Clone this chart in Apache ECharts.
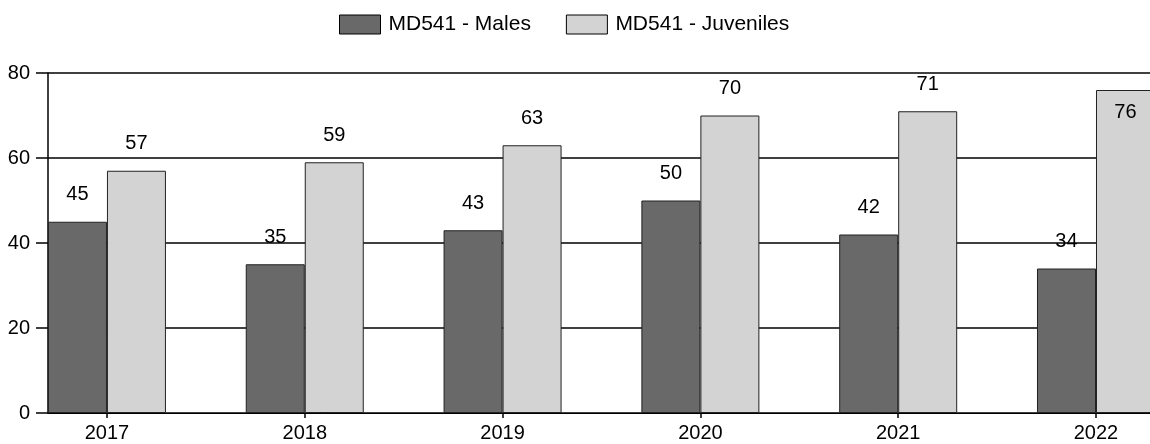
<!DOCTYPE html>
<html>
<head>
<meta charset="utf-8">
<script src="https://cdn.jsdelivr.net/npm/echarts@6/dist/echarts.min.js"></script>
<style>
html,body{margin:0;padding:0;background:#fff;}
#chart{width:1150px;height:444px;}
</style>
</head>
<body>
<div id="chart"></div>
<script>
const years = [2017, 2018, 2019, 2020, 2021, 2022];
const males = [45, 35, 43, 50, 42, 34];
const juveniles = [57, 59, 63, 70, 71, 76];
const yTicks = [0, 20, 40, 60, 80];
const seriesNames = ['MD541 - Males', 'MD541 - Juveniles'];

const FONT = '"Liberation Sans", Arial, sans-serif';
const chart = echarts.init(document.getElementById('chart'), null, {renderer: 'canvas'});

function pairs(vals, insideIdx) {
  return vals.map((v, i) => {
    const d = {value: [years[i], v]};
    if (insideIdx && insideIdx.includes(i)) {
      d.label = {position: 'insideTop', distance: 12};
    }
    return d;
  });
}

const labelCommon = {
  show: true,
  position: 'top',
  distance: 17,
  color: '#000',
  fontFamily: FONT,
  fontSize: 20,
  formatter: p => p.value[1]
};

chart.setOption({
  animation: false,
  backgroundColor: '#fff',
  textStyle: {fontFamily: FONT},
  legend: {
    left: 334,
    top: 9,
    icon: 'rect',
    itemWidth: 41,
    itemHeight: 19,
    itemGap: 35,
    textStyle: {color: '#000', fontSize: 21, fontFamily: FONT, padding: [0, 0, 0, 3]},
    data: seriesNames,
    itemStyle: {borderColor: '#000', borderWidth: 1}
  },
  grid: {left: 48, right: 0, top: 73, bottom: 31, containLabel: false},
  xAxis: {
    type: 'value',
    min: 2016.702,
    max: 2022.273,
    splitLine: {show: false},
    axisLine: {show: true, onZero: false, lineStyle: {color: '#000', width: 1}},
    axisTick: {show: true, length: 5, customValues: years, lineStyle: {color: '#000', width: 1.5}},
    axisLabel: {
      customValues: years,
      formatter: v => String(v),
      color: '#000',
      fontSize: 20,
      fontFamily: FONT,
      margin: 10
    }
  },
  yAxis: {
    type: 'value',
    min: 0,
    max: 80,
    interval: 20,
    axisLine: {show: true, lineStyle: {color: '#000', width: 1.5}},
    axisTick: {show: true, length: 12, lineStyle: {color: '#000', width: 1.5}},
    axisLabel: {
      customValues: yTicks,
      color: '#000', fontSize: 20, fontFamily: FONT, margin: 18
    },
    splitLine: {show: true, lineStyle: {color: '#000', width: 1.5}}
  },
  series: [
    {
      name: seriesNames[0],
      type: 'bar',
      barWidth: 59,
      barGap: '0%',
      data: pairs(males),
      itemStyle: {color: '#696969', borderColor: '#222', borderWidth: 1},
      label: labelCommon
    },
    {
      name: seriesNames[1],
      type: 'bar',
      barWidth: 59,
      barGap: '0%',
      data: pairs(juveniles, [5]),
      itemStyle: {color: '#d3d3d3', borderColor: '#222', borderWidth: 1},
      label: labelCommon
    }
  ]
});
</script>
</body>
</html>
